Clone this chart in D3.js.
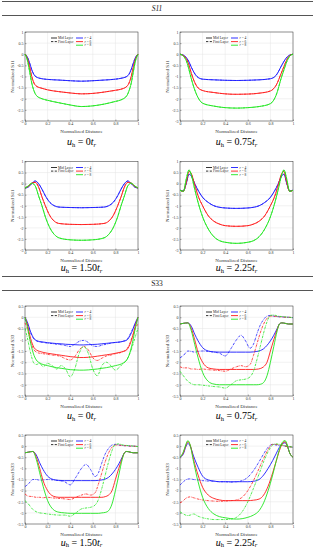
<!DOCTYPE html>
<html><head><meta charset="utf-8">
<script src="https://cdn.jsdelivr.net/npm/d3@7/dist/d3.min.js"></script>
<style>html,body{margin:0;padding:0;background:#fff;}svg{display:block;}</style>
</head><body>
<svg id="c" width="315" height="550"></svg>
<script>
// ---------- tick labels / categories ----------
const xTicks = [0, 0.2, 0.4, 0.6, 0.8, 1];
const s11YTicks = [1, 0.5, 0, -0.5, -1, -1.5, -2, -2.5, -3];
const s33YTicks = [0.5, 0, -0.5, -1, -1.5, -2, -2.5, -3, -3.5];
const legendLayers = ["Mid Layer", "First Layer"];
const legendRatios = ["r = 4", "r = 6", "r = 8"];
const captionValues = ["0", "0.75", "1.50", "2.25"];

// ---------- S11, u_h = 0 t_r ----------
const x11a = [0,.02,.04,.06,.08,.1,.15,.2,.3,.4,.5,.6,.7,.8,.85,.9,.92,.94,.96,.98,1];
const s11a_r4 = [0,-0.12,-0.38,-0.7,-0.92,-1.02,-1.1,-1.13,-1.16,-1.19,-1.21,-1.19,-1.16,-1.12,-1.08,-1.0,-0.9,-0.68,-0.38,-0.12,0];
const s11a_r6 = [0,-0.18,-0.55,-1.0,-1.3,-1.43,-1.53,-1.6,-1.68,-1.74,-1.78,-1.76,-1.7,-1.62,-1.57,-1.45,-1.3,-1.0,-0.55,-0.18,0];
const s11a_r8 = [0,-0.25,-0.75,-1.3,-1.65,-1.85,-2.0,-2.07,-2.18,-2.28,-2.35,-2.32,-2.24,-2.12,-2.05,-1.87,-1.65,-1.3,-0.75,-0.25,0];

// ---------- S11, u_h = 0.75 t_r ----------
const x11b = [0,.02,.04,.06,.08,.1,.15,.2,.3,.4,.5,.6,.7,.8,.85,.9,.92,.94,.96,.98,1];
const s11b_r4 = [0,-0.02,-0.07,-0.18,-0.35,-0.58,-1.0,-1.12,-1.15,-1.17,-1.18,-1.17,-1.15,-1.1,-0.95,-0.5,-0.32,-0.17,-0.07,-0.02,0];
const s11b_r6 = [0,-0.03,-0.1,-0.25,-0.5,-0.85,-1.45,-1.63,-1.72,-1.78,-1.8,-1.79,-1.75,-1.65,-1.4,-0.8,-0.55,-0.3,-0.12,-0.03,0];
const s11b_r8 = [0,-0.04,-0.15,-0.35,-0.7,-1.1,-1.85,-2.2,-2.33,-2.4,-2.42,-2.4,-2.35,-2.22,-1.85,-1.0,-0.7,-0.4,-0.17,-0.04,0];

// ---------- S11, u_h = 1.50 t_r ----------
const x11c = [0,.03,.06,.09,.12,.15,.18,.22,.26,.3,.4,.5,.6,.7,.74,.78,.82,.85,.88,.91,.94,.97,1];
const s11c_r4 = [-0.2,-0.15,0.0,0.12,0.0,-0.25,-0.55,-0.85,-1.0,-1.06,-1.08,-1.09,-1.08,-1.06,-1.0,-0.85,-0.55,-0.25,0.0,0.12,0.0,-0.15,-0.2];
const s11c_r6 = [-0.2,-0.12,0.02,0.06,-0.15,-0.6,-1.0,-1.45,-1.7,-1.8,-1.84,-1.85,-1.84,-1.8,-1.7,-1.45,-1.0,-0.6,-0.15,0.06,0.02,-0.12,-0.2];
const s11c_r8 = [-0.2,-0.1,0.02,-0.1,-0.55,-1.0,-1.5,-2.0,-2.3,-2.45,-2.54,-2.56,-2.54,-2.45,-2.3,-2.0,-1.5,-1.0,-0.55,-0.1,0.02,-0.1,-0.2];

// ---------- S11, u_h = 2.25 t_r ----------
const x11d = [0,.03,.055,.08,.1,.13,.16,.2,.25,.3,.35,.4,.5,.6,.65,.7,.75,.8,.84,.87,.9,.92,.945,.97,1];
const s11d_r4 = [-0.3,-0.33,0.0,0.42,0.35,0.0,-0.3,-0.62,-0.85,-1.0,-1.07,-1.1,-1.12,-1.1,-1.07,-1.0,-0.85,-0.62,-0.3,0.0,0.35,0.42,0.0,-0.33,-0.3];
const s11d_r6 = [-0.3,-0.35,0.05,0.55,0.45,-0.05,-0.55,-1.0,-1.45,-1.7,-1.83,-1.9,-1.93,-1.9,-1.83,-1.7,-1.45,-1.0,-0.55,-0.05,0.45,0.55,0.05,-0.35,-0.3];
const s11d_r8 = [-0.3,-0.35,0.2,0.62,0.4,-0.25,-0.85,-1.5,-2.05,-2.4,-2.58,-2.65,-2.7,-2.65,-2.58,-2.4,-2.05,-1.5,-0.85,-0.25,0.4,0.62,0.2,-0.35,-0.3];

// ---------- S33, u_h = 0 t_r ----------
const x33a = [0,.02,.05,.08,.1,.13,.16,.2,.24,.28,.32,.36,.4,.44,.48,.52,.56,.6,.64,.68,.72,.76,.8,.84,.87,.9,.92,.95,.98,1];
const s33a_mid_r4 = [0,-0.2,-0.65,-0.95,-1.03,-1.08,-1.1,-1.13,-1.15,-1.17,-1.18,-1.2,-1.21,-1.22,-1.23,-1.23,-1.22,-1.21,-1.2,-1.18,-1.16,-1.14,-1.12,-1.1,-1.07,-1.02,-0.9,-0.6,-0.2,0];
const s33a_first_r4 = [-0.1,-0.3,-0.7,-0.97,-1.05,-1.1,-1.12,-1.15,-1.17,-1.2,-1.22,-1.26,-1.3,-1.2,-1.07,-1.03,-1.12,-1.27,-1.3,-1.24,-1.2,-1.15,-1.12,-1.1,-1.06,-1.0,-0.85,-0.55,-0.25,-0.1];
const s33a_mid_r6 = [0,-0.3,-0.95,-1.35,-1.45,-1.52,-1.56,-1.6,-1.63,-1.66,-1.69,-1.72,-1.75,-1.77,-1.79,-1.79,-1.78,-1.76,-1.73,-1.7,-1.67,-1.64,-1.6,-1.56,-1.52,-1.45,-1.3,-0.9,-0.3,0];
const s33a_first_r6 = [-0.25,-0.5,-1.1,-1.45,-1.55,-1.6,-1.62,-1.65,-1.68,-1.7,-1.75,-1.85,-1.9,-1.75,-1.45,-1.3,-1.45,-1.8,-1.92,-1.82,-1.72,-1.68,-1.62,-1.58,-1.52,-1.42,-1.25,-0.85,-0.45,-0.3];
const s33a_mid_r8 = [0,-0.4,-1.16,-1.7,-1.9,-2.03,-2.1,-2.15,-2.2,-2.24,-2.27,-2.3,-2.33,-2.34,-2.35,-2.35,-2.34,-2.32,-2.3,-2.27,-2.24,-2.2,-2.15,-2.1,-2.03,-1.9,-1.7,-1.16,-0.4,0];
const s33a_first_r8 = [-0.5,-0.9,-1.6,-2.05,-2.1,-2.05,-2.2,-2.05,-2.15,-2.3,-2.15,-2.3,-2.65,-2.3,-1.6,-1.3,-1.6,-2.3,-2.6,-2.15,-2.0,-2.15,-2.35,-2.2,-2.05,-1.9,-1.7,-1.3,-0.8,-0.5];

// ---------- S33, u_h = 0.75 t_r ----------
const x33b = [0,.03,.07,.1,.13,.16,.2,.25,.3,.35,.4,.45,.5,.54,.58,.62,.65,.68,.71,.74,.77,.8,.83,.86,.88,.9,.93,.96,1];
const s33b_mid_r4 = [-0.3,-0.27,-0.25,-0.4,-0.75,-1.05,-1.35,-1.5,-1.54,-1.55,-1.55,-1.55,-1.55,-1.55,-1.55,-1.55,-1.54,-1.52,-1.48,-1.4,-1.25,-1.05,-0.8,-0.5,-0.3,-0.25,-0.27,-0.3,-0.3];
const s33b_first_r4 = [-1.8,-1.7,-1.5,-1.52,-1.55,-1.52,-1.5,-1.52,-1.55,-1.6,-1.72,-1.4,-1.0,-0.8,-1.05,-1.38,-1.2,-0.75,-0.35,-0.1,0.05,0.08,0.05,0.03,0.02,0.02,0.0,0.0,-0.02];
const s33b_mid_r6 = [-0.3,-0.27,-0.25,-0.5,-1.0,-1.55,-2.0,-2.25,-2.3,-2.32,-2.32,-2.32,-2.32,-2.32,-2.32,-2.32,-2.32,-2.31,-2.28,-2.2,-2.0,-1.5,-1.0,-0.55,-0.3,-0.25,-0.27,-0.3,-0.3];
const s33b_first_r6 = [-2.2,-2.25,-2.25,-2.3,-2.3,-2.32,-2.3,-2.33,-2.35,-2.37,-2.4,-2.3,-2.2,-2.15,-2.2,-2.1,-1.7,-1.2,-0.7,-0.3,-0.05,0.05,0.05,0.03,0.02,0.02,0.0,0.0,-0.02];
const s33b_mid_r8 = [-0.3,-0.27,-0.25,-0.6,-1.2,-1.8,-2.45,-2.85,-2.97,-3.0,-3.0,-3.0,-3.0,-3.0,-3.0,-3.0,-3.0,-3.0,-2.98,-2.9,-2.6,-2.0,-1.3,-0.6,-0.3,-0.25,-0.27,-0.3,-0.3];
const s33b_first_r8 = [-2.4,-2.6,-2.85,-2.95,-3.0,-3.0,-3.02,-3.05,-3.08,-3.1,-3.15,-3.0,-2.82,-2.78,-2.75,-2.65,-2.4,-1.9,-1.3,-0.7,-0.2,0.08,0.1,0.06,0.04,0.03,0.02,0.0,-0.02];

// ---------- S33, u_h = 1.50 t_r ----------
const x33c = [0,.03,.07,.1,.13,.16,.2,.25,.3,.35,.4,.45,.5,.54,.58,.62,.65,.68,.71,.74,.77,.8,.83,.86,.88,.9,.93,.96,1];
const s33c_mid_r4 = [-0.3,-0.27,-0.24,-0.4,-0.75,-1.05,-1.35,-1.5,-1.54,-1.55,-1.55,-1.55,-1.55,-1.55,-1.55,-1.55,-1.54,-1.52,-1.48,-1.4,-1.25,-1.05,-0.8,-0.5,-0.3,-0.24,-0.27,-0.3,-0.3];
const s33c_first_r4 = [-1.82,-1.7,-1.5,-1.5,-1.53,-1.52,-1.5,-1.52,-1.55,-1.6,-1.74,-1.4,-1.0,-0.82,-1.05,-1.37,-1.2,-0.75,-0.35,-0.1,0.05,0.08,0.05,0.03,0.02,0.02,0.0,0.0,-0.02];
const s33c_mid_r6 = [-0.3,-0.27,-0.24,-0.5,-1.0,-1.55,-2.0,-2.25,-2.3,-2.3,-2.3,-2.3,-2.3,-2.3,-2.3,-2.3,-2.3,-2.3,-2.27,-2.2,-2.0,-1.5,-1.0,-0.55,-0.3,-0.24,-0.27,-0.3,-0.3];
const s33c_first_r6 = [-2.15,-2.25,-2.27,-2.3,-2.3,-2.32,-2.3,-2.33,-2.35,-2.37,-2.4,-2.3,-2.2,-2.15,-2.2,-2.1,-1.7,-1.2,-0.7,-0.3,-0.05,0.05,0.05,0.03,0.02,0.02,0.0,0.0,-0.02];
const s33c_mid_r8 = [-0.3,-0.27,-0.24,-0.6,-1.2,-1.8,-2.45,-2.85,-2.97,-3.0,-3.02,-3.02,-3.02,-3.02,-3.02,-3.02,-3.02,-3.0,-2.98,-2.9,-2.6,-2.0,-1.3,-0.6,-0.3,-0.24,-0.27,-0.3,-0.3];
const s33c_first_r8 = [-2.45,-2.6,-2.85,-2.95,-3.0,-3.02,-3.05,-3.08,-3.1,-3.1,-3.15,-3.0,-2.82,-2.78,-2.75,-2.65,-2.4,-1.9,-1.3,-0.7,-0.2,0.08,0.1,0.06,0.04,0.03,0.02,0.0,-0.02];

// ---------- S33, u_h = 2.25 t_r ----------
const x33d = [0,.03,.05,.07,.09,.12,.16,.2,.25,.3,.35,.4,.45,.5,.55,.6,.65,.7,.74,.78,.82,.85,.88,.91,.93,.95,.97,1];
const s33d_mid_r4 = [-0.5,-0.35,-0.05,0.12,0.0,-0.45,-0.95,-1.35,-1.52,-1.57,-1.6,-1.6,-1.6,-1.6,-1.6,-1.6,-1.58,-1.5,-1.3,-1.0,-0.65,-0.35,-0.05,0.12,0.15,0.0,-0.3,-0.5];
const s33d_first_r4 = [-1.75,-1.6,-1.52,-1.48,-1.47,-1.5,-1.52,-1.55,-1.57,-1.58,-1.6,-1.6,-1.62,-1.6,-1.55,-1.4,-1.1,-0.7,-0.35,-0.05,0.08,0.05,0.03,0.02,0.0,-0.02,-0.03,-0.05];
const s33d_mid_r6 = [-0.5,-0.3,0.0,0.2,0.05,-0.6,-1.3,-1.85,-2.2,-2.35,-2.42,-2.45,-2.45,-2.45,-2.45,-2.45,-2.43,-2.38,-2.2,-1.8,-1.2,-0.7,-0.2,0.15,0.2,0.0,-0.3,-0.5];
const s33d_first_r6 = [-2.55,-2.45,-2.35,-2.3,-2.28,-2.32,-2.38,-2.42,-2.45,-2.47,-2.48,-2.47,-2.45,-2.42,-2.3,-2.0,-1.55,-1.0,-0.55,-0.15,0.08,0.08,0.05,0.03,0.0,-0.02,-0.03,-0.05];
const s33d_mid_r8 = [-0.5,-0.25,0.05,0.25,0.05,-0.7,-1.6,-2.3,-2.8,-3.05,-3.17,-3.22,-3.26,-3.28,-3.26,-3.2,-3.1,-2.9,-2.55,-2.0,-1.3,-0.7,-0.15,0.2,0.25,0.05,-0.3,-0.5];
const s33d_first_r8 = [-2.95,-3.05,-3.1,-3.12,-3.1,-3.05,-3.15,-3.22,-3.27,-3.3,-3.3,-3.3,-3.28,-3.2,-2.95,-2.5,-1.9,-1.25,-0.7,-0.25,0.05,0.1,0.08,0.05,0.02,0.0,-0.02,-0.05];

// ---------- build panels from the arrays ----------
const colors = {r4: "#1a1aff", r6: "#ff1a1a", r8: "#1ee61e"};
const panels = [
  {quantity:"S11", col:0, row:0, cap:0, x:x11a, mid:{r4:s11a_r4, r6:s11a_r6, r8:s11a_r8}, first:{r4:s11a_r4, r6:s11a_r6, r8:s11a_r8}},
  {quantity:"S11", col:1, row:0, cap:1, x:x11b, mid:{r4:s11b_r4, r6:s11b_r6, r8:s11b_r8}, first:{r4:s11b_r4, r6:s11b_r6, r8:s11b_r8}},
  {quantity:"S11", col:0, row:1, cap:2, x:x11c, mid:{r4:s11c_r4, r6:s11c_r6, r8:s11c_r8}, first:{r4:s11c_r4, r6:s11c_r6, r8:s11c_r8}},
  {quantity:"S11", col:1, row:1, cap:3, x:x11d, mid:{r4:s11d_r4, r6:s11d_r6, r8:s11d_r8}, first:{r4:s11d_r4, r6:s11d_r6, r8:s11d_r8}},
  {quantity:"S33", col:0, row:2, cap:0, x:x33a, mid:{r4:s33a_mid_r4, r6:s33a_mid_r6, r8:s33a_mid_r8}, first:{r4:s33a_first_r4, r6:s33a_first_r6, r8:s33a_first_r8}},
  {quantity:"S33", col:1, row:2, cap:1, x:x33b, mid:{r4:s33b_mid_r4, r6:s33b_mid_r6, r8:s33b_mid_r8}, first:{r4:s33b_first_r4, r6:s33b_first_r6, r8:s33b_first_r8}},
  {quantity:"S33", col:0, row:3, cap:2, x:x33c, mid:{r4:s33c_mid_r4, r6:s33c_mid_r6, r8:s33c_mid_r8}, first:{r4:s33c_first_r4, r6:s33c_first_r6, r8:s33c_first_r8}},
  {quantity:"S33", col:1, row:3, cap:3, x:x33d, mid:{r4:s33d_mid_r4, r6:s33d_mid_r6, r8:s33d_mid_r8}, first:{r4:s33d_first_r4, r6:s33d_first_r6, r8:s33d_first_r8}}
];

// ---------- layout ----------
const colX = [25, 180];
const plotW = 113;
const rows = [
  {top:32, bottom:121, capY:145, yt:s11YTicks},
  {top:161.5, bottom:250, capY:271, yt:s11YTicks},
  {top:306, bottom:396, capY:419, yt:s33YTicks},
  {top:435, bottom:524, capY:545.5, yt:s33YTicks}
];
const serif = "'Liberation Serif','DejaVu Serif',serif";
const svg = d3.select("#c");
const fmt = v => String(v);

// header rules
function header(y1, y2, label, italic) {
  svg.append("line").attr("x1",2).attr("x2",313).attr("y1",y1).attr("y2",y1).attr("stroke","#555").attr("stroke-width",1);
  svg.append("line").attr("x1",2).attr("x2",313).attr("y1",y2).attr("y2",y2).attr("stroke","#555").attr("stroke-width",1);
  svg.append("text").attr("x",157).attr("y",(y1+y2)/2+2.6).attr("text-anchor","middle")
    .attr("font-family",serif).attr("font-size",7.5).attr("font-style",italic?"italic":"normal").attr("fill","#222").text(label);
}
header(1.5, 15.5, "S11", true);
header(276.5, 290.5, "S33", false);

panels.forEach(p => {
  const L = rows[p.row];
  const x0 = colX[p.col];
  const yt = L.yt;
  const xs = d3.scaleLinear().domain([0,1]).range([x0, x0+plotW]);
  const ys = d3.scaleLinear().domain([yt[yt.length-1], yt[0]]).range([L.bottom, L.top]);
  const g = svg.append("g");

  // grid
  g.selectAll(".gx").data(xTicks).join("line")
    .attr("x1",d=>xs(d)).attr("x2",d=>xs(d)).attr("y1",L.top).attr("y2",L.bottom)
    .attr("stroke","#e4e4e4").attr("stroke-width",0.5);
  g.selectAll(".gy").data(yt).join("line")
    .attr("x1",x0).attr("x2",x0+plotW).attr("y1",d=>ys(d)).attr("y2",d=>ys(d))
    .attr("stroke","#e4e4e4").attr("stroke-width",0.5);

  // axes
  const ax = g.append("g").attr("transform",`translate(0,${L.bottom})`)
    .call(d3.axisBottom(xs).tickValues(xTicks).tickFormat(fmt).tickSize(-1.5).tickPadding(1.2));
  const ay = g.append("g").attr("transform",`translate(${x0},0)`)
    .call(d3.axisLeft(ys).tickValues(yt).tickFormat(fmt).tickSize(-1.5).tickPadding(1.5));
  [ax, ay].forEach(a => {
    a.select(".domain").remove();
    a.selectAll("line").attr("stroke","#333").attr("stroke-width",0.4);
    a.selectAll("text").attr("font-family",serif).attr("font-size",4).attr("fill","#333");
  });
  g.append("rect").attr("x",x0).attr("y",L.top).attr("width",plotW).attr("height",L.bottom-L.top)
    .attr("fill","none").attr("stroke","#333").attr("stroke-width",0.5);

  // axis titles
  g.append("text").attr("x",x0+plotW/2).attr("y",L.bottom+12).attr("text-anchor","middle")
    .attr("font-family",serif).attr("font-size",5).attr("fill","#333").text("Normalized Distance");
  g.append("text").attr("transform",`translate(${x0-11.5},${(L.top+L.bottom)/2}) rotate(-90)`).attr("text-anchor","middle")
    .attr("font-family",serif).attr("font-size",5).attr("fill","#333").text("Normalized " + p.quantity);

  // curves
  const line = d3.line().x((d,i)=>xs(p.x[i])).y(d=>ys(d)).curve(d3.curveMonotoneX);
  ["r4","r6","r8"].forEach(k => {
    g.append("path").attr("d", line(p.mid[k])).attr("fill","none").attr("stroke",colors[k]).attr("stroke-width",0.9);
    g.append("path").attr("d", line(p.first[k])).attr("fill","none").attr("stroke",colors[k]).attr("stroke-width",0.8)
      .attr("stroke-dasharray","2.4,0.9,0.6,0.9");
  });

  // legend
  const lx = x0 + 26, ly = L.top + 6;
  const lg = g.append("g");
  legendLayers.forEach((t,i) => {
    const y = ly + i*3.6;
    lg.append("line").attr("x1",lx).attr("x2",lx+6).attr("y1",y).attr("y2",y).attr("stroke","#000")
      .attr("stroke-width",0.8).attr("stroke-dasharray", i===0 ? null : "2,0.7,0.5,0.7");
    lg.append("text").attr("x",lx+7).attr("y",y+1.2).attr("font-family",serif).attr("font-size",3.5).attr("fill","#222").text(t);
  });
  legendRatios.forEach((t,i) => {
    const y = ly + i*3.6;
    const k = ["r4","r6","r8"][i];
    lg.append("line").attr("x1",lx+25).attr("x2",lx+32).attr("y1",y).attr("y2",y).attr("stroke",colors[k]).attr("stroke-width",0.9);
    const tt = lg.append("text").attr("x",lx+33.5).attr("y",y+1.2).attr("font-family",serif).attr("font-size",3.5).attr("fill","#222");
    tt.append("tspan").attr("font-style","italic").text(t.split(" ")[0]);
    tt.append("tspan").text(" " + t.split(" ").slice(1).join(" "));
  });

  // caption  u_h = N t_r
  const cap = svg.append("text").attr("x",x0+plotW/2).attr("y",L.capY).attr("text-anchor","middle")
    .attr("font-family",serif).attr("font-size",10).attr("fill","#000");
  cap.append("tspan").attr("font-style","italic").text("u");
  cap.append("tspan").attr("font-size",6.5).attr("dy",1.6).text("h");
  cap.append("tspan").attr("dy",-1.6).text(" = " + captionValues[p.cap]);
  cap.append("tspan").attr("font-style","italic").text("t");
  cap.append("tspan").attr("font-size",6.5).attr("font-style","italic").attr("dy",1.6).text("r");
});
</script>
</body></html>
